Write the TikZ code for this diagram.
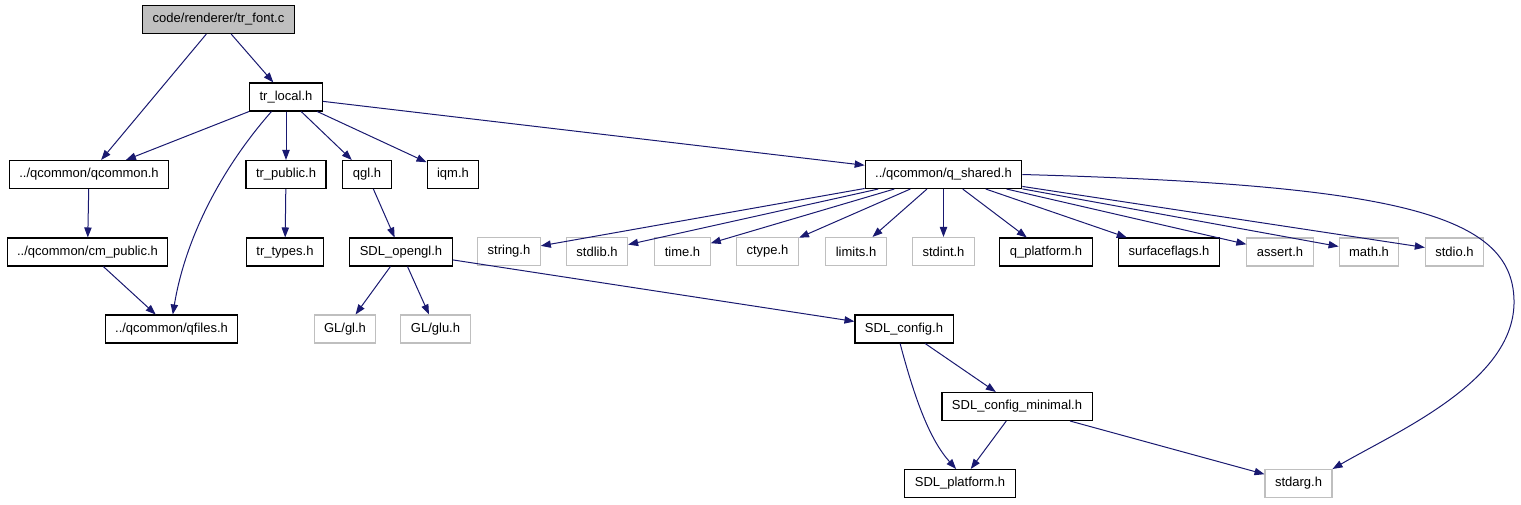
\documentclass[tikz,border=0pt]{standalone}
\usepackage{fontspec}
\setmainfont{Liberation Sans}
\usetikzlibrary{arrows.meta}
\definecolor{edgeblue}{HTML}{191970}
\definecolor{boxgray}{HTML}{BFBFBF}

\begin{document}
\begin{tikzpicture}[x=0.75pt,y=-0.75pt,>={Triangle[length=7.5pt,width=5.5pt]},
  hdr/.style={draw=black,fill=white,line width=0.8pt,minimum height=21pt,
    inner xsep=7.5pt,inner ysep=0pt,font=\fontsize{9.75}{11}\selectfont},
  syshdr/.style={hdr,draw=boxgray},
  root/.style={hdr,fill=boxgray},
  dep/.style={->,draw=edgeblue,line width=0.75pt}]
  \useasboundingbox (0,0) rectangle (1521,504);
  \node[root] (tf) at (218.5,19.5) {code/renderer/tr\_font.c};
  \node[hdr] (tl) at (286,97) {tr\_local.h};
  \node[hdr] (qc) at (89,174.5) {../qcommon/qcommon.h};
  \node[hdr] (tp) at (286,174.5) {tr\_public.h};
  \node[hdr] (qgl) at (367,174.5) {qgl.h};
  \node[hdr] (iqm) at (453,174.5) {iqm.h};
  \node[hdr] (qs) at (943.5,174.5) {../qcommon/q\_shared.h};
  \node[hdr] (cm) at (87.5,252) {../qcommon/cm\_public.h};
  \node[hdr] (tt) at (285,252) {tr\_types.h};
  \node[hdr] (sgl) at (401,252) {SDL\_opengl.h};
  \node[syshdr] (str) at (509,251.5) {string.h};
  \node[syshdr] (stdl) at (597,251.5) {stdlib.h};
  \node[syshdr] (tim) at (682.5,251.5) {time.h};
  \node[syshdr] (cty) at (767.5,251.5) {ctype.h};
  \node[syshdr] (lim) at (856,251.5) {limits.h};
  \node[syshdr] (sint) at (943.5,251.5) {stdint.h};
  \node[hdr] (qp) at (1046,252) {q\_platform.h};
  \node[hdr] (sf) at (1169,252) {surfaceflags.h};
  \node[syshdr] (ast) at (1280,252) {assert.h};
  \node[syshdr] (mth) at (1369,252) {math.h};
  \node[syshdr] (sio) at (1454.5,252) {stdio.h};
  \node[hdr] (qf) at (171.5,329) {../qcommon/qfiles.h};
  \node[syshdr] (gl) at (345,329) {GL/gl.h};
  \node[syshdr] (glu) at (435.5,329) {GL/glu.h};
  \node[hdr] (cfg) at (904,329) {SDL\_config.h};
  \node[hdr] (cmin) at (1017,406.5) {SDL\_config\_minimal.h};
  \node[hdr] (splat) at (960,483.5) {SDL\_platform.h};
  \node[syshdr] (sarg) at (1298.5,483.5) {stdarg.h};
  \draw[dep] (tf) -- (qc);
  \draw[dep] (tf) -- (tl);
  \draw[dep] (tl) -- (qc);
  \draw[dep] (tl.225) .. controls (220,170) and (185,240) .. (qf.85);
  \draw[dep] (tl) -- (tp);
  \draw[dep] (tl) -- (qgl);
  \draw[dep] (tl) -- (iqm);
  \draw[dep] (tl) -- (qs);
  \draw[dep] (qc) -- (cm);
  \draw[dep] (cm) -- (qf);
  \draw[dep] (tp) -- (tt);
  \draw[dep] (qgl) -- (sgl);
  \draw[dep] (sgl) -- (gl);
  \draw[dep] (sgl) -- (glu);
  \draw[dep] (sgl) -- (cfg);
  \draw[dep] (qs) -- (str);
  \draw[dep] (qs) -- (stdl);
  \draw[dep] (qs) -- (tim);
  \draw[dep] (qs) -- (cty);
  \draw[dep] (qs) -- (lim);
  \draw[dep] (qs) -- (sint);
  \draw[dep] (qs) -- (qp);
  \draw[dep] (qs) -- (sf);
  \draw[dep] (qs) -- (ast);
  \draw[dep] (qs) -- (mth);
  \draw[dep] (qs) -- (sio);
  \draw[dep] (qs.east) .. controls (1400,185) and (1512,215) .. (1514,300)
    .. controls (1516,380) and (1400,430) .. (sarg.north east);
  \draw[dep] (cfg.255) .. controls (915,400) and (930,440) .. (splat.105);
  \draw[dep] (cfg) -- (cmin);
  \draw[dep] (cmin) -- (splat);
  \draw[dep] (cmin) -- (sarg);
\end{tikzpicture}
\end{document}
